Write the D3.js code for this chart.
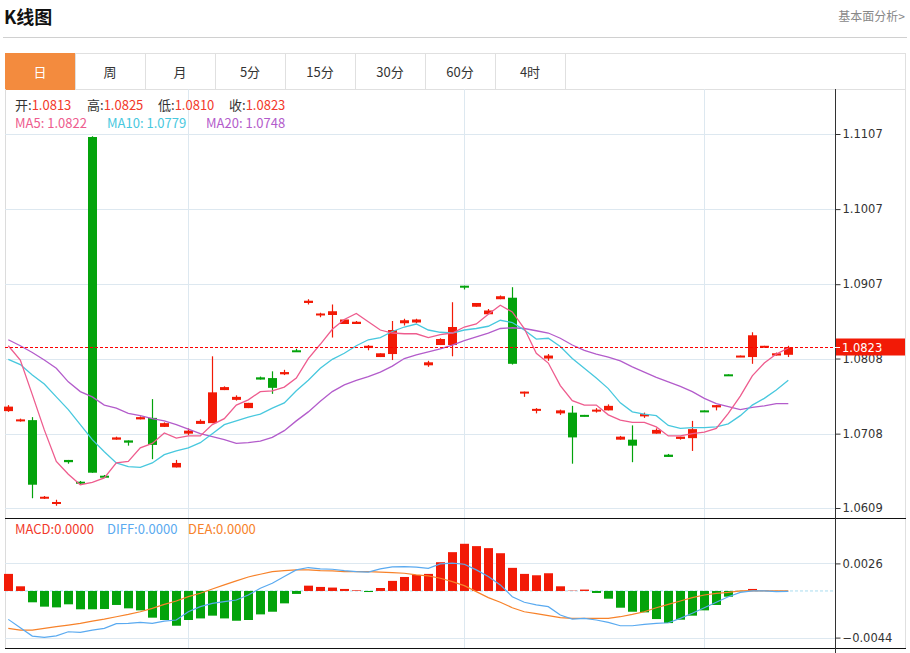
<!doctype html>
<html lang="zh">
<head>
<meta charset="utf-8" />
<title>K线图</title>
<script src="https://d3js.org/d3.v7.min.js"></script>
<style>
  body { margin: 0; background: #fff; }
  svg { display: block; font-family: "Noto Sans CJK SC", "Noto Sans", sans-serif; }
</style>
</head>
<body>
<script>
// candle data, one entry per day
const opens  = [1.0738,1.0725,1.0726,1.0622,1.0615,1.0673,1.0644,1.1103,1.0652,1.0700,1.0699,1.0727,1.0729,1.0717,1.0663,1.0708,1.0721,1.0722,1.0766,1.0753,1.0742,1.0783,1.0782,1.0787,1.0819,1.0882,1.0866,1.0866,1.0854,1.0854,1.0822,1.0810,1.0814,1.0855,1.0856,1.0799,1.0826,1.0826,1.0905,1.0877,1.0867,1.0887,1.0889,1.0763,1.0739,1.0808,1.0735,1.0736,1.0733,1.0738,1.0739,1.0700,1.0700,1.0731,1.0708,1.0680,1.0701,1.0702,1.0739,1.0743,1.0787,1.0810,1.0810,1.0823,1.0812,1.0813];
const highs  = [1.0746,1.0728,1.0730,1.0625,1.0620,1.0673,1.0645,1.1104,1.0653,1.0704,1.0699,1.0731,1.0754,1.0723,1.0673,1.0715,1.0727,1.0811,1.0771,1.0759,1.0749,1.0784,1.0791,1.0793,1.0821,1.0887,1.0869,1.0880,1.0860,1.0858,1.0826,1.0815,1.0858,1.0861,1.0861,1.0805,1.0835,1.0883,1.0905,1.0882,1.0874,1.0892,1.0903,1.0764,1.0742,1.0814,1.0740,1.0745,1.0733,1.0742,1.0747,1.0705,1.0719,1.0736,1.0715,1.0681,1.0704,1.0725,1.0739,1.0746,1.0787,1.0812,1.0843,1.0825,1.0816,1.0825];
const lows   = [1.0737,1.0724,1.0622,1.0621,1.0612,1.0668,1.0641,1.0656,1.0649,1.0700,1.0692,1.0727,1.0674,1.0717,1.0663,1.0706,1.0721,1.0722,1.0766,1.0752,1.0742,1.0780,1.0761,1.0786,1.0817,1.0880,1.0863,1.0836,1.0854,1.0854,1.0819,1.0810,1.0806,1.0852,1.0855,1.0797,1.0826,1.0811,1.0900,1.0877,1.0867,1.0887,1.0800,1.0757,1.0735,1.0805,1.0733,1.0668,1.0731,1.0736,1.0739,1.0700,1.0670,1.0729,1.0708,1.0677,1.0700,1.0685,1.0737,1.0739,1.0785,1.0810,1.0801,1.0823,1.0812,1.0810];
const closes = [1.0744,1.0727,1.0640,1.0624,1.0617,1.0670,1.0642,1.0656,1.0650,1.0703,1.0696,1.0730,1.0693,1.0722,1.0669,1.0712,1.0725,1.0763,1.0770,1.0757,1.0749,1.0780,1.0769,1.0790,1.0817,1.0885,1.0868,1.0871,1.0860,1.0857,1.0825,1.0815,1.0846,1.0859,1.0860,1.0803,1.0834,1.0850,1.0903,1.0882,1.0872,1.0891,1.0801,1.0764,1.0741,1.0812,1.0739,1.0703,1.0731,1.0740,1.0745,1.0704,1.0692,1.0734,1.0713,1.0677,1.0704,1.0714,1.0737,1.0746,1.0785,1.0812,1.0839,1.0825,1.0815,1.0823];

// moving averages as drawn
const ma5  = [1.0825,1.0806,1.0760,1.0713,1.0671,1.0654,1.0640,1.0643,1.0649,1.0669,1.0671,1.0689,1.0695,1.0709,1.0702,1.0705,1.0705,1.0720,1.0728,1.0746,1.0753,1.0764,1.0765,1.0770,1.0782,1.0808,1.0827,1.0847,1.0860,1.0868,1.0857,1.0846,1.0842,1.0841,1.0841,1.0836,1.0840,1.0842,1.0850,1.0854,1.0867,1.0879,1.0870,1.0848,1.0815,1.0802,1.0772,1.0752,1.0746,1.0746,1.0733,1.0726,1.0723,1.0723,1.0717,1.0705,1.0705,1.0708,1.0710,1.0715,1.0735,1.0758,1.0785,1.0802,1.0814,1.0822];
const ma10 = [1.0807,1.0800,1.0786,1.0774,1.0757,1.0740,1.0720,1.0700,1.0684,1.0669,1.0664,1.0663,1.0669,1.0680,1.0685,1.0689,1.0696,1.0708,1.0720,1.0725,1.0730,1.0734,1.0742,1.0749,1.0765,1.0779,1.0795,1.0807,1.0815,1.0825,1.0833,1.0836,1.0844,1.0850,1.0854,1.0846,1.0843,1.0842,1.0846,1.0848,1.0851,1.0859,1.0856,1.0846,1.0834,1.0835,1.0824,1.0808,1.0795,1.0782,1.0768,1.0749,1.0737,1.0734,1.0732,1.0719,1.0715,1.0716,1.0716,1.0717,1.0721,1.0732,1.0746,1.0755,1.0766,1.0779];
const ma20 = [1.0833,1.0825,1.0816,1.0806,1.0795,1.0777,1.0764,1.0757,1.0746,1.0742,1.0735,1.0732,1.0728,1.0725,1.0720,1.0714,1.0708,1.0704,1.0700,1.0695,1.0696,1.0698,1.0703,1.0712,1.0725,1.0737,1.0751,1.0764,1.0773,1.0779,1.0784,1.0790,1.0798,1.0808,1.0813,1.0817,1.0821,1.0826,1.0832,1.0837,1.0842,1.0848,1.0849,1.0848,1.0845,1.0842,1.0835,1.0826,1.0819,1.0814,1.0810,1.0805,1.0797,1.0790,1.0783,1.0777,1.0771,1.0764,1.0755,1.0748,1.0744,1.0740,1.0743,1.0745,1.0748,1.0748];

// MACD panel
const macdBars = [0.00161,0.00044,-0.00107,-0.00148,-0.00155,-0.00126,-0.00173,-0.00173,-0.00170,-0.00132,-0.00164,-0.00183,-0.00252,-0.00274,-0.00328,-0.00274,-0.00259,-0.00233,-0.00259,-0.00281,-0.00274,-0.00221,-0.00196,-0.00117,-0.00028,0.00050,0.00038,0.00032,0.00019,0.00006,-0.00010,0.00028,0.00095,0.00132,0.00151,0.00161,0.00271,0.00366,0.00445,0.00423,0.00404,0.00356,0.00218,0.00161,0.00148,0.00167,0.00044,0.00003,0.00013,-0.00019,-0.00073,-0.00158,-0.00196,-0.00202,-0.00265,-0.00303,-0.00271,-0.00233,-0.00183,-0.00132,-0.00054,-0.00003,0.00019,0.00003,-0.00003,0];
const diff = [-0.00268,-0.00347,-0.00426,-0.00438,-0.00423,-0.00385,-0.00391,-0.00369,-0.00353,-0.00309,-0.00306,-0.00296,-0.00306,-0.00284,-0.00274,-0.00196,-0.00148,-0.00117,-0.00101,-0.00085,-0.00038,0.00025,0.00073,0.00136,0.00199,0.00221,0.00208,0.00205,0.00192,0.00183,0.00177,0.00208,0.00227,0.00230,0.00224,0.00214,0.00255,0.00262,0.00252,0.00199,0.00136,0.00057,-0.00054,-0.00107,-0.00132,-0.00148,-0.00227,-0.00265,-0.00259,-0.00274,-0.00296,-0.00328,-0.00328,-0.00315,-0.00306,-0.00300,-0.00259,-0.00211,-0.00158,-0.00107,-0.00054,-0.00013,0,0,-0.00006,-0.00003];
const dea = [-0.00353,-0.00369,-0.00369,-0.00353,-0.00337,-0.00322,-0.00306,-0.00284,-0.00265,-0.00243,-0.00221,-0.00196,-0.00164,-0.00126,-0.00095,-0.00054,-0.00022,0.00019,0.00057,0.00095,0.00132,0.00158,0.00183,0.00192,0.00199,0.00199,0.00192,0.00189,0.00183,0.00183,0.00183,0.00177,0.00173,0.00167,0.00151,0.00142,0.00120,0.00088,0.00050,-0.00006,-0.00063,-0.00107,-0.00158,-0.00196,-0.00214,-0.00233,-0.00252,-0.00259,-0.00259,-0.00259,-0.00259,-0.00243,-0.00221,-0.00196,-0.00158,-0.00126,-0.00095,-0.00063,-0.00038,-0.00022,-0.00013,0,0.00003,0,0,0];

const priceTicks = [1.1107, 1.1007, 1.0907, 1.0808, 1.0708, 1.0609];
const macdTicks = [0.0026, -0.0044];
const lastPrice = 1.0823;
const gridIdx = [15, 38, 58];   // vertical grid lines fall on these candles
const tabs = ["日", "周", "月", "5分", "15分", "30分", "60分", "4时"];

const RED = "#f21a06", GREEN = "#03a30b";
const C_MA5 = "#ee5c8e", C_MA10 = "#48c8de", C_MA20 = "#b35ccb";

const svg = d3.select("body").append("svg").attr("width", 910).attr("height", 653);

// header
svg.append("text").attr("x", 4).attr("y", 24).attr("font-size", 18).attr("font-weight", "bold")
    .attr("fill", "#111").text("K线图");
svg.append("text").attr("x", 905).attr("y", 21).attr("font-size", 12).attr("text-anchor", "end")
    .attr("fill", "#888").text("基本面分析>");
svg.append("line").attr("x1", 3).attr("x2", 907).attr("y1", 37.5).attr("y2", 37.5).attr("stroke", "#d0d0d0");

// tabs
const tabW = 70, tabX0 = 5, tabY = 53, tabH = 36;
svg.append("rect").attr("x", 5.5).attr("y", tabY + 0.5).attr("width", 900).attr("height", tabH)
    .attr("fill", "none").attr("stroke", "#e0e0e0");
tabs.forEach((t, i) => {
    const g = svg.append("g").attr("transform", `translate(${tabX0 + i * tabW},${tabY})`);
    g.append("rect").attr("x", 0.5).attr("y", 0.5).attr("width", tabW).attr("height", tabH)
        .attr("fill", i === 0 ? "#f38b3e" : "#fff").attr("stroke", i === 0 ? "#f38b3e" : "#e0e0e0");
    g.append("text").attr("x", tabW / 2).attr("y", 24).attr("text-anchor", "middle").attr("font-size", 13)
        .attr("fill", i === 0 ? "#fff" : "#333").text(t);
});

// scales
const plotL = 5, plotR = 835;
const x = d3.scaleLinear().domain([0, closes.length - 1]).range([8.3, 788.3]);
const y = d3.scaleLinear().domain([1.0609, 1.1107]).range([508, 134]);
const ym = d3.scaleLinear().domain([-0.0044, 0.0026]).range([637.6, 563.4]);
const bw = 9;

// frame
svg.append("line").attr("x1", 905.5).attr("x2", 905.5).attr("y1", 89).attr("y2", 649).attr("stroke", "#e0e0e0");
svg.append("line").attr("x1", plotL + 0.5).attr("x2", plotL + 0.5).attr("y1", 89).attr("y2", 649).attr("stroke", "#dcdcdc");

// grid main
const grid = svg.append("g").attr("stroke", "#dde8f0");
priceTicks.forEach(p => grid.append("line").attr("x1", plotL).attr("x2", plotR)
    .attr("y1", Math.round(y(p)) + 0.5).attr("y2", Math.round(y(p)) + 0.5));
macdTicks.forEach(p => grid.append("line").attr("x1", plotL).attr("x2", plotR)
    .attr("y1", Math.round(ym(p)) + 0.5).attr("y2", Math.round(ym(p)) + 0.5));
gridIdx.forEach(i => {
    grid.append("line").attr("x1", Math.round(x(i)) + 0.5).attr("x2", Math.round(x(i)) + 0.5).attr("y1", 89).attr("y2", 518);
    grid.append("line").attr("x1", Math.round(x(i)) + 0.5).attr("x2", Math.round(x(i)) + 0.5).attr("y1", 519).attr("y2", 648);
});

// panel separators
svg.append("line").attr("x1", plotL).attr("x2", 906).attr("y1", 518.5).attr("y2", 518.5).attr("stroke", "#111");
svg.append("line").attr("x1", plotL).attr("x2", 906).attr("y1", 648.5).attr("y2", 648.5).attr("stroke", "#111");

// right axes
const axisMain = d3.axisRight(y).tickValues(priceTicks).tickFormat(d3.format(".4f")).tickSize(5).tickSizeOuter(0);
const gA = svg.append("g").attr("transform", `translate(${plotR + 0.5},0)`).call(axisMain);
const axisMacd = d3.axisRight(ym).tickValues(macdTicks).tickFormat(d3.format(".4f")).tickSize(5).tickSizeOuter(0);
const gB = svg.append("g").attr("transform", `translate(${plotR + 0.5},0)`).call(axisMacd);
[gA, gB].forEach(g => {
    g.select(".domain").remove();
    g.selectAll("line").attr("stroke", "#333");
    g.selectAll("text").attr("fill", "#333").attr("x", 7)
        .attr("font-family", "'DejaVu Sans', sans-serif").style("font-size", "11.5px");
});
svg.append("line").attr("x1", plotR + 0.5).attr("x2", plotR + 0.5).attr("y1", 89).attr("y2", 653).attr("stroke", "#333");

// candles
const candles = svg.append("g");
closes.forEach((c, i) => {
    const o = opens[i], col = c >= o ? RED : GREEN;
    const cx = Math.round(x(i)) + 0.5;
    candles.append("line").attr("x1", cx).attr("x2", cx).attr("y1", y(highs[i])).attr("y2", y(lows[i]))
        .attr("stroke", col).attr("stroke-width", 1.2);
    const top = y(Math.max(o, c)), h = Math.max(Math.abs(y(o) - y(c)), 2);
    candles.append("rect").attr("x", cx - bw / 2).attr("y", top).attr("width", bw).attr("height", h).attr("fill", col);
});

// MA lines
[[ma20, C_MA20], [ma10, C_MA10], [ma5, C_MA5]].forEach(([arr, col]) => {
    svg.append("path").datum(arr).attr("fill", "none").attr("stroke", col).attr("stroke-width", 1.3)
        .attr("d", d3.line().x((d, i) => x(i)).y(d => y(d)));
});

// last price line + tag (the tag covers part of the 1.0808 label, as in the original)
const ly = Math.round(y(lastPrice)) + 0.5;
svg.append("line").attr("x1", plotL).attr("x2", plotR).attr("y1", ly).attr("y2", ly)
    .attr("stroke", "#ff0000").attr("stroke-width", 1).attr("stroke-dasharray", "3,2")
    .attr("shape-rendering", "crispEdges");
svg.append("rect").attr("x", plotR + 1).attr("y", ly - 9).attr("width", 69).attr("height", 17).attr("fill", "#f21a06");
svg.append("line").attr("x1", plotR).attr("x2", plotR + 5).attr("y1", ly).attr("y2", ly).attr("stroke", "#fff");
svg.append("text").attr("x", plotR + 7).attr("y", ly + 4.5).attr("fill", "#fff")
    .attr("font-family", "'DejaVu Sans', sans-serif").style("font-size", "11.5px").text(lastPrice.toFixed(4));

// MACD bars
svg.append("line").attr("x1", plotL).attr("x2", plotR).attr("y1", ym(0)).attr("y2", ym(0))
    .attr("stroke", "#a9dcef").attr("stroke-dasharray", "3,2");
const bars = svg.append("g");
macdBars.forEach((v, i) => {
    const cx = Math.round(x(i)) + 0.5;
    bars.append("rect").attr("x", cx - bw / 2).attr("width", bw)
        .attr("y", Math.min(ym(v), ym(0))).attr("height", Math.abs(ym(v) - ym(0)))
        .attr("fill", v >= 0 ? RED : GREEN);
});
[[dea, "#f7822a"], [diff, "#5aaaf0"]].forEach(([arr, col]) => {
    svg.append("path").datum(arr).attr("fill", "none").attr("stroke", col).attr("stroke-width", 1.2)
        .attr("d", d3.line().x((d, i) => x(i)).y(d => ym(d)));
});

// info rows
const last = closes.length - 1;
function label(xp, yp, parts) {
    const t = svg.append("text").attr("x", xp).attr("y", yp).attr("font-size", 13);
    parts.forEach(([s, c]) => t.append("tspan").attr("fill", c).text(s));
}
const VAL = "#f2392b";
label(15, 110, [["开:", "#333"], [opens[last].toFixed(4), VAL]]);
label(87, 110, [["高:", "#333"], [highs[last].toFixed(4), VAL]]);
label(158, 110, [["低:", "#333"], [lows[last].toFixed(4), VAL]]);
label(229, 110, [["收:", "#333"], [closes[last].toFixed(4), VAL]]);
label(15, 128, [["MA5: " + ma5[last].toFixed(4), C_MA5]]);
label(107, 128, [["MA10: " + ma10[last].toFixed(4), C_MA10]]);
label(206, 128, [["MA20: " + ma20[last].toFixed(4), C_MA20]]);
label(15, 534, [["MACD:" + Math.abs(macdBars[last]).toFixed(4), "#f2392b"]]);
label(107, 534, [["DIFF:" + Math.abs(diff[last]).toFixed(4), "#5aaaf0"]]);
label(188, 534, [["DEA:" + Math.abs(dea[last]).toFixed(4), "#f7822a"]]);
</script>
</body>
</html>
